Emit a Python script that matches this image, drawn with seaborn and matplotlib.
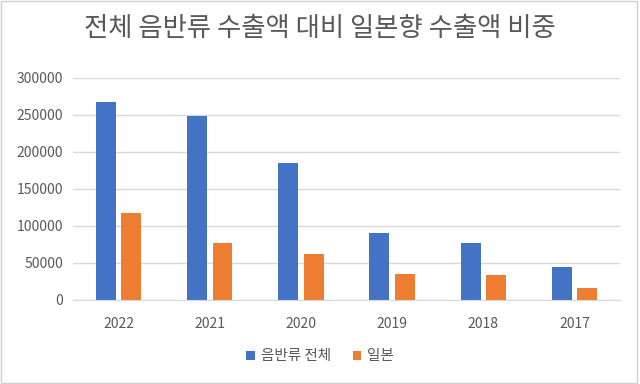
import pandas as pd
import seaborn as sns
import matplotlib.pyplot as plt

# Data
years = ["2022", "2021", "2020", "2019", "2018", "2017"]
total_export = [267000, 249000, 184500, 91000, 76700, 44200]
japan_export = [118000, 76700, 62200, 35600, 33800, 15800]
series_names = ["음반류 전체", "일본"]

df = pd.DataFrame({
    "year": years * 2,
    "value": total_export + japan_export,
    "series": [series_names[0]] * len(years) + [series_names[1]] * len(years),
})

sns.set_style("white")
plt.rcParams['font.family'] = ['Noto Sans CJK KR', 'DejaVu Sans']

fig = plt.figure(figsize=(6.4, 3.84), dpi=100)
ax = fig.add_axes([0.114, 0.219, 0.855, 0.578])

sns.barplot(data=df, x="year", y="value", hue="series",
            palette=["#4472C4", "#ED7D31"], width=0.56, gap=0.22,
            saturation=1, linewidth=0, ax=ax)

ax.set_ylim(0, 300000)
ax.set_xlim(-0.5, 5.5)
ax.set_yticks(range(0, 300001, 50000))
ax.yaxis.grid(True, color="#d9d9d9", linewidth=1)
ax.set_axisbelow(True)
for s in ["left", "right", "top"]:
    ax.spines[s].set_visible(False)
ax.spines["bottom"].set_color("#d9d9d9")
ax.tick_params(axis="both", length=0, labelsize=10, colors="#595959", pad=7)
ax.tick_params(axis="x", pad=12)
ax.set_xlabel("")
ax.set_ylabel("")

fig.suptitle("전체 음반류 수출액 대비 일본향 수출액 비중", fontsize=19,
             color="#595959", y=0.96)

ax.legend(loc="center", bbox_to_anchor=(0.5, 0.072), bbox_transform=fig.transFigure,
          ncol=2, frameon=False, fontsize=10.5, handlelength=0.6, handleheight=0.6,
          handletextpad=0.4, columnspacing=1.5, labelcolor="#595959")

fig.patches.append(plt.Rectangle((0.001, 0.003), 0.994, 0.995, transform=fig.transFigure,
                                 fill=False, edgecolor="#cfcfcf", linewidth=1))

fig.savefig("out.png", dpi=100)
